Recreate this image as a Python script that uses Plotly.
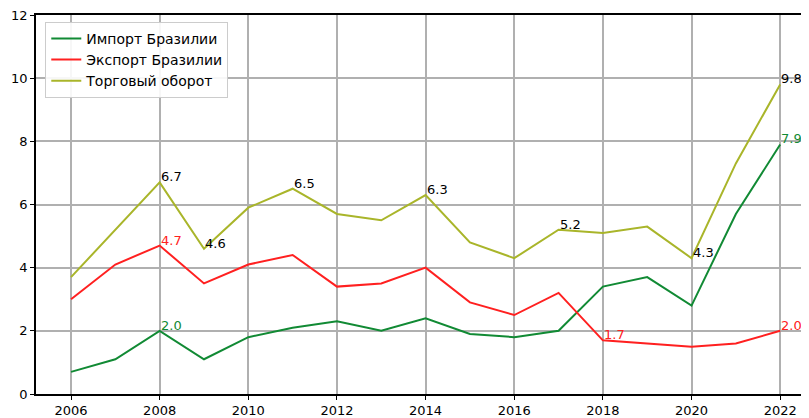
import plotly.graph_objects as go

years = list(range(2006, 2023))
import_br = [0.7, 1.1, 2.0, 1.1, 1.8, 2.1, 2.3, 2.0, 2.4, 1.9, 1.8, 2.0, 3.4, 3.7, 2.8, 5.7, 7.9]
export_br = [3.0, 4.1, 4.7, 3.5, 4.1, 4.4, 3.4, 3.5, 4.0, 2.9, 2.5, 3.2, 1.7, 1.6, 1.5, 1.6, 2.0]
turnover = [3.7, 5.2, 6.7, 4.6, 5.9, 6.5, 5.7, 5.5, 6.3, 4.8, 4.3, 5.2, 5.1, 5.3, 4.3, 7.3, 9.8]

names = ["Импорт Бразилии", "Экспорт Бразилии", "Торговый оборот"]
colors = ["#118a34", "#ff2020", "#a9b52a"]

label_years_import = [2008, 2022]
label_years_export = [2008, 2018, 2022]
label_years_turnover = [2008, 2009, 2011, 2014, 2017, 2020, 2022]

fig = go.Figure()
for name, vals, c in zip(names, [import_br, export_br, turnover], colors):
    fig.add_trace(go.Scatter(x=years, y=vals, mode="lines", name=name,
                             line=dict(color=c, width=2)))

annotations = []
for series, lyears, tcolor in [(import_br, label_years_import, colors[0]),
                               (export_br, label_years_export, colors[1]),
                               (turnover, label_years_turnover, "black")]:
    for yr in lyears:
        v = series[years.index(yr)]
        annotations.append(dict(x=yr, y=v, text=f"{v:.1f}", showarrow=False,
                                xanchor="left", yanchor="bottom", yshift=-4,
                                xshift=-1,
                                font=dict(color=tcolor, size=13, family="DejaVu Sans")))

# page body has an 8px margin, so figure is sized/offset to compensate
fig.update_layout(
    width=801, height=410,
    margin=dict(l=28, r=0, t=7, b=22),
    paper_bgcolor="white", plot_bgcolor="white",
    font=dict(family="DejaVu Sans", size=13, color="black"),
    showlegend=True,
    legend=dict(x=0.012, y=0.982, xanchor="left", yanchor="top",
                bgcolor="rgba(255,255,255,0.9)", bordercolor="#cccccc", borderwidth=1,
                font=dict(size=14, family="DejaVu Sans"), tracegroupgap=0,
                itemwidth=30),
    annotations=annotations,
)
fig.update_xaxes(range=[2005.21, 2022.65], tickvals=list(range(2006, 2023, 2)),
                 showgrid=True, gridcolor="#b0b0b0", gridwidth=1.5,
                 showline=True, linecolor="black", linewidth=1.5, mirror=True,
                 ticks="outside", ticklen=4, tickcolor="black", zeroline=False,
                 tickfont=dict(size=13), ticklabeloverflow="allow")
fig.update_yaxes(range=[0, 12], tickvals=list(range(0, 13, 2)),
                 showgrid=True, gridcolor="#b0b0b0", gridwidth=1.5,
                 showline=True, linecolor="black", linewidth=1.5,
                 ticks="outside", ticklen=4, tickcolor="black", zeroline=False,
                 tickfont=dict(size=13), ticklabeloverflow="allow")

fig.write_html("out.html")
